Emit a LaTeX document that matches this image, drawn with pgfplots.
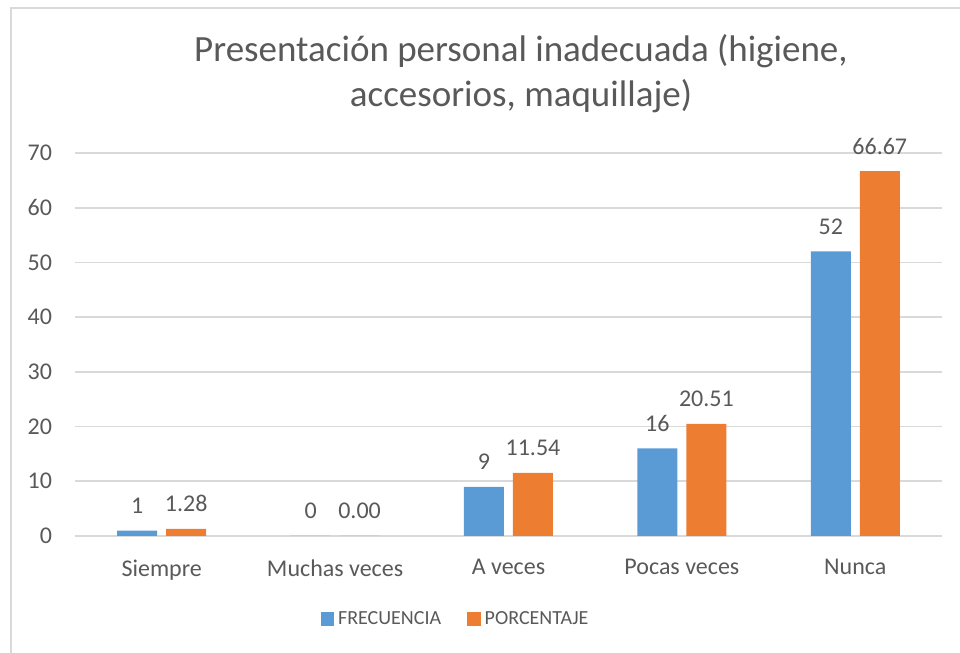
\documentclass[border=0pt]{standalone}
\usepackage{fontspec}
\setmainfont{Carlito}
\usepackage{pgfplots}
\pgfplotsset{compat=1.18}
\definecolor{cblue}{HTML}{5B9BD5}
\definecolor{corange}{HTML}{ED7D31}
\definecolor{txt}{HTML}{595959}
\definecolor{grd}{HTML}{D9D9D9}
\begin{document}
\begin{tikzpicture}[x=0.5pt,y=0.5pt]
\path[use as bounding box] (0,0) rectangle (960,653);
% chart frame (left and top edges only, as in the screenshot)
\draw[grd,line width=1.2pt] (11,0) -- (11,645) -- (960,645);
% title
\node[txt,font=\fontsize{18.5}{22.5}\selectfont,align=center,anchor=base] at (521,546)
  {Presentación personal inadecuada (higiene,\\accesorios, maquillaje)};
\begin{axis}[
  at={(37.5pt,58.5pt)}, anchor=south west,
  scale only axis, width=433.5pt, height=191.5pt,
  xmin=-0.5, xmax=4.5, ymin=0, ymax=70,
  ytick={0,10,...,70},
  xtick={0,1,2,3,4},
  xticklabels={Siempre,Muchas veces,A veces,Pocas veces,Nunca},
  ybar=4.5pt, bar width=20pt,
  ymajorgrids, grid style={grd,line width=0.8pt},
  axis line style={draw=none}, tick style={draw=none},
  ticklabel style={txt,font=\fontsize{12}{14}\selectfont},
  /pgf/number format/assume math mode=true,
  yticklabel style={xshift=-8pt},
  xticklabel style={yshift=-4pt},
  nodes near coords, point meta=explicit symbolic,
  nodes near coords style={txt,font=\fontsize{12}{14}\selectfont,anchor=base,yshift=8.5pt},
  legend columns=2,
  legend style={draw=none,at={(0.44,-0.217)},anchor=center,
    font=\fontsize{10}{12}\selectfont,text=txt,
    /tikz/every even column/.append style={column sep=11pt}},
  legend image code/.code={\fill[#1] (0pt,-3.4pt) rectangle (6.8pt,3.4pt);},
]
\addplot[fill=cblue,draw=none] coordinates {
  (0,1)[1] (1,0)[0] (2,9)[9] (3,16)[16] (4,52)[52]
};
\addplot[fill=corange,draw=none] coordinates {
  (0,1.28)[1.28] (1,0)[0.00] (2,11.54)[11.54] (3,20.51)[20.51] (4,66.67)[66.67]
};
\legend{FRECUENCIA,PORCENTAJE}
\end{axis}
\end{tikzpicture}
\end{document}
